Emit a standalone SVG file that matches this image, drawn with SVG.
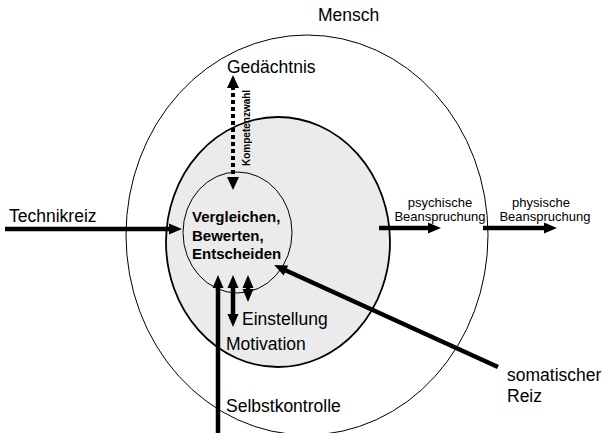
<svg xmlns="http://www.w3.org/2000/svg" width="605" height="433" viewBox="0 0 605 433">
  <style>
    .lbl { font-family: "Liberation Sans", Arial, sans-serif; font-size: 17.5px; fill: #000; }
    .bold { font-family: "Liberation Sans", Arial, sans-serif; font-size: 15px; font-weight: bold; fill: #000; }
    .small { font-family: "Liberation Sans", Arial, sans-serif; font-size: 13px; fill: #000; }
    .tiny { font-family: "Liberation Sans", Arial, sans-serif; font-size: 10px; font-weight: bold; fill: #000; }
    .arrow { stroke: #000; stroke-width: 4.5; fill: none; }
    .dotted { stroke: #000; stroke-width: 4; fill: none; stroke-dasharray: 4 3; }
  </style>
  <defs>
    <marker id="head" markerUnits="userSpaceOnUse" markerWidth="13" markerHeight="11" refX="6" refY="5.5" orient="auto-start-reverse" overflow="visible">
      <path d="M0,0 L13,5.5 L0,11 z" fill="#000"/>
    </marker>
  </defs>

  <rect width="605" height="433" fill="#fff"/>

  <!-- human boundary -->
  <g id="mensch">
    <ellipse cx="307" cy="235" rx="181" ry="200" fill="none" stroke="#000" stroke-width="1"/>
    <text class="lbl" x="318" y="21">Mensch</text>
  </g>

  <!-- motivation area -->
  <g id="motivation">
    <ellipse cx="278" cy="242" rx="112" ry="125" fill="#ebebeb" stroke="#000" stroke-width="1.8"/>
  </g>

  <!-- decision core -->
  <g id="entscheiden">
    <ellipse cx="237.5" cy="232.5" rx="54.5" ry="60.5" fill="#ebebeb" stroke="#000" stroke-width="1"/>
    <text class="bold" x="192" y="222">Vergleichen,</text>
    <text class="bold" x="192" y="240.5">Bewerten,</text>
    <text class="bold" x="192" y="259">Entscheiden</text>
  </g>

  <g id="gedaechtnis">
    <text class="lbl" x="227" y="73">Gedächtnis</text>
  </g>
  <g id="technikreiz">
    <text class="lbl" x="9" y="222">Technikreiz</text>
  </g>
  <g id="psychische">
    <text class="small" x="440" y="207" text-anchor="middle">psychische</text>
    <text class="small" x="440" y="221" text-anchor="middle">Beanspruchung</text>
  </g>
  <g id="physische">
    <text class="small" x="541" y="207" text-anchor="middle">physische</text>
    <text class="small" x="545" y="221" text-anchor="middle">Beanspruchung</text>
  </g>
  <g id="einstellung">
    <text class="lbl" x="242" y="325">Einstellung</text>
  </g>
  <g id="motivation-label">
    <text class="lbl" x="226" y="350">Motivation</text>
  </g>
  <g id="selbstkontrolle">
    <text class="lbl" x="226" y="412">Selbstkontrolle</text>
  </g>
  <g id="somatischer-reiz">
    <text class="lbl" x="507" y="381">somatischer</text>
    <text class="lbl" x="507" y="402">Reiz</text>
  </g>

  <!-- connectors -->
  <g id="connectors">
    <!-- Kompetenzwahl: memory <-> core -->
    <line class="dotted" x1="233" y1="86" x2="233" y2="179"/>
    <path d="M227,88 L233,75 L239,88 z" fill="#000"/>
    <path d="M227,177 L233,190 L239,177 z" fill="#000"/>
    <text class="tiny" transform="translate(250,166) rotate(-90)">Kompetenzwahl</text>

    <!-- Technikreiz -->
    <line class="arrow" x1="5" y1="229" x2="175" y2="229" marker-end="url(#head)"/>
    <!-- psychische / physische Beanspruchung -->
    <line class="arrow" x1="379" y1="228" x2="434" y2="228" marker-end="url(#head)"/>
    <line class="arrow" x1="483" y1="228" x2="550" y2="228" marker-end="url(#head)"/>

    <!-- Selbstkontrolle -->
    <line class="arrow" x1="218" y1="433" x2="218" y2="282" marker-end="url(#head)"/>
    <!-- Einstellung -->
    <line class="arrow" x1="233" y1="320" x2="233" y2="282" marker-start="url(#head)" marker-end="url(#head)"/>
    <!-- Motivation -->
    <line class="arrow" x1="248" y1="295" x2="248" y2="282" marker-start="url(#head)" marker-end="url(#head)"/>

    <!-- somatischer Reiz -->
    <line class="arrow" x1="498" y1="367" x2="280.5" y2="268" marker-end="url(#head)"/>
  </g>
</svg>
